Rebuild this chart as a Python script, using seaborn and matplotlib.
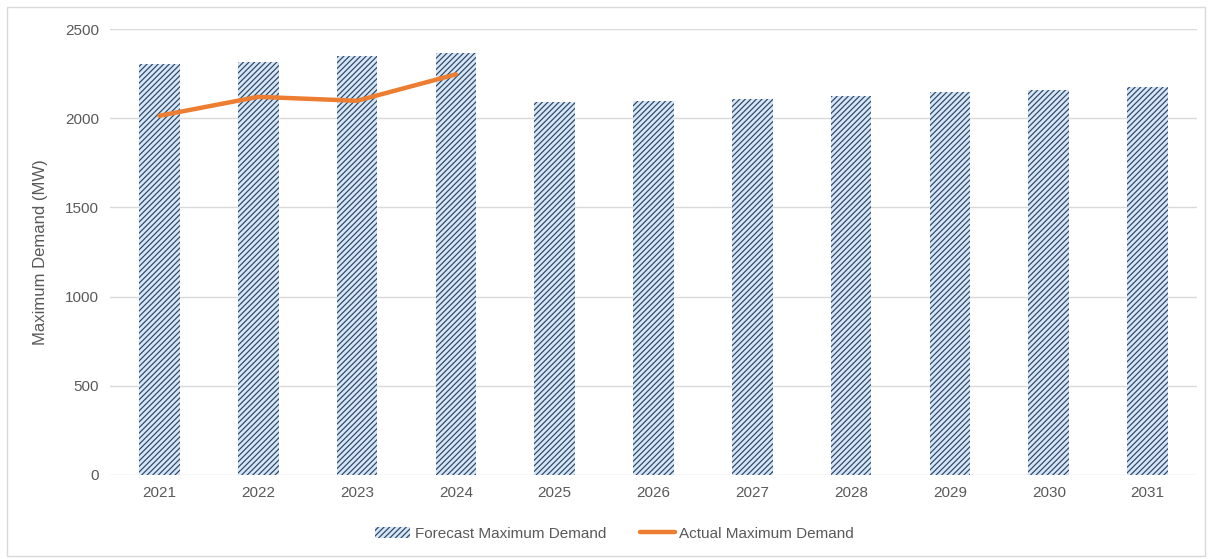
import matplotlib
matplotlib.use("Agg")
import matplotlib.pyplot as plt
import seaborn as sns
import pandas as pd
from matplotlib.patches import Patch, Rectangle
from matplotlib.lines import Line2D

years = ["2021", "2022", "2023", "2024", "2025", "2026", "2027", "2028", "2029", "2030", "2031"]
forecast = [2304, 2315, 2350, 2364, 2091, 2096, 2108, 2124, 2147, 2158, 2175]
actual_years = ["2021", "2022", "2023", "2024"]
actual = [2014, 2120, 2098, 2246]

sns.set_theme(style="white")
plt.rcParams['font.family'] = ['Liberation Sans', 'DejaVu Sans']
plt.rcParams['hatch.linewidth'] = 0.85

HATCH_C = "#2a4468"
FACE_C = "#d6e6f5"

fig = plt.figure(figsize=(12.12, 5.59), dpi=100)
ax = fig.add_axes([0.0908, 0.1503, 0.8968, 0.7977])

df = pd.DataFrame({"Year": years, "Forecast": forecast})
sns.barplot(data=df, x="Year", y="Forecast", ax=ax, color=FACE_C,
            width=0.41, saturation=1, linewidth=0)
for p in ax.patches:
    p.set_hatch("//////")
    p.set_facecolor(FACE_C)
    p.set_edgecolor(HATCH_C)
    p.set_linewidth(0)

pos = [years.index(y) for y in actual_years]
dfa = pd.DataFrame({"pos": pos, "Actual": actual})
sns.lineplot(data=dfa, x="pos", y="Actual", ax=ax, color="#ed7d31", linewidth=3.2,
             solid_capstyle="round", zorder=5)

ax.set_xlim(-0.5, len(years) - 0.5)
ax.set_ylim(0, 2500)
ax.set_yticks([0, 500, 1000, 1500, 2000, 2500])
ax.set_xticks(range(len(years)))
ax.set_xticklabels(years)
ax.yaxis.grid(True, color="#d9d9d9", linewidth=1.0)
ax.set_axisbelow(True)
for s in ax.spines.values():
    s.set_visible(False)
ax.tick_params(axis="both", length=0, labelsize=11, colors="#595959", pad=8)
ax.set_xlabel("")
ax.set_ylabel("Maximum Demand (MW)", fontsize=12, color="#595959", labelpad=12)

handles = [Patch(facecolor=FACE_C, hatch="//////", edgecolor=HATCH_C, linewidth=0,
                 label="Forecast Maximum Demand"),
           Line2D([0], [0], color="#ed7d31", linewidth=3.2, label="Actual Maximum Demand")]
leg = fig.legend(handles=handles, loc="center", bbox_to_anchor=(0.507, 0.045), ncol=2,
                 frameon=False, fontsize=11, labelcolor="#595959", columnspacing=2.2,
                 handlelength=2.3, handletextpad=0.3)

fig.patches.append(Rectangle((0.006, 0.006), 0.988, 0.982, transform=fig.transFigure,
                             fill=False, edgecolor="#d9d9d9", linewidth=1.0))

fig.savefig("out.png", dpi=100)
